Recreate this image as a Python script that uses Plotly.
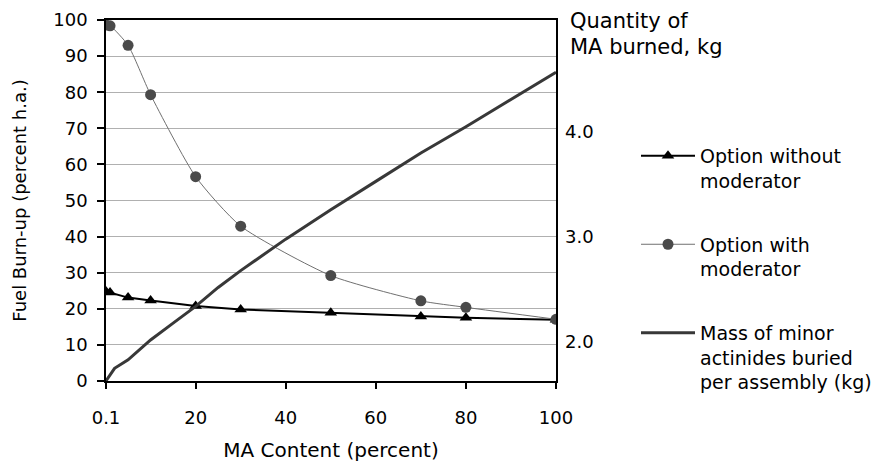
import plotly.graph_objects as go

# ---- data ----
ma_content = [0.1, 1, 5, 10, 20, 30, 50, 70, 80, 100]
burnup_without_moderator = [24.8, 24.5, 23.1, 22.3, 20.8, 19.8, 18.9, 17.9, 17.5, 17.0]
burnup_with_moderator = [98.6, 98.4, 93.0, 79.3, 56.6, 42.9, 29.2, 22.2, 20.4, 17.1]

mass_content = [0.1, 2, 5, 10, 15, 20, 25, 30, 40, 50, 60, 70, 80, 90, 100]
mass_buried_kg = [1.63, 1.75, 1.83, 2.02, 2.18, 2.34, 2.52, 2.68, 2.98, 3.26, 3.53, 3.80, 4.05, 4.31, 4.57]

x_tickvals = [0.1, 20, 40, 60, 80, 100]
x_ticktext = ["0.1", "20", "40", "60", "80", "100"]
y2_tickvals = [2, 3, 4]

FONT = "DejaVu Sans"
# the page body adds an 8px offset, so the figure is 8px smaller than the window
W, H = 871, 454

fig = go.Figure()

fig.add_trace(go.Scatter(
    x=ma_content, y=burnup_without_moderator,
    name="Option without<br>moderator", legendgroup="a",
    mode="lines+markers",
    line=dict(color="black", width=2),
    marker=dict(symbol="triangle-up", size=11, color="black"),
))
fig.add_trace(go.Scatter(
    x=ma_content, y=burnup_with_moderator,
    name="Option with<br>moderator", legendgroup="b",
    mode="lines+markers",
    line=dict(color="#707070", width=1, shape="spline", smoothing=0.6),
    marker=dict(symbol="circle", size=11, color="#4a4a4a"),
))
fig.add_trace(go.Scatter(
    x=mass_content, y=mass_buried_kg, yaxis="y2",
    name="Mass of minor<br>actinides buried<br>per assembly (kg)", legendgroup="c",
    mode="lines",
    line=dict(color="#383838", width=3),
))

fig.update_layout(
    width=W, height=H,
    margin=dict(l=98, r=323, t=12, b=81, autoexpand=False),
    paper_bgcolor="white", plot_bgcolor="white",
    font=dict(family=FONT, color="black"),
    showlegend=True,
    legend=dict(
        xref="container", yref="container",
        x=628 / W, y=1 - 129 / H, xanchor="left", yanchor="top",
        font=dict(size=19, family=FONT),
        itemwidth=54, valign="top", tracegroupgap=36,
        bgcolor="rgba(0,0,0,0)", maxheight=H,
    ),
    xaxis=dict(
        range=[0.1, 100], tickvals=x_tickvals, ticktext=x_ticktext,
        showgrid=False, zeroline=False, automargin=False,
        showline=True, linecolor="black", linewidth=1.5, mirror=True,
        ticks="outside", ticklen=6, tickcolor="black", tickwidth=1.5,
        tickfont=dict(size=18), ticklabelstandoff=14,
        title=dict(text="MA Content (percent)", font=dict(size=20), standoff=16),
    ),
    yaxis=dict(
        range=[0, 100], dtick=10, automargin=False,
        showgrid=True, gridcolor="#b0b0b0", gridwidth=1, zeroline=False,
        showline=True, linecolor="black", linewidth=1.5, mirror=True,
        ticks="outside", ticklen=7, tickcolor="black", tickwidth=1.5,
        tickfont=dict(size=18), ticklabelstandoff=6,
        title=dict(text="Fuel Burn-up (percent h.a.)", font=dict(size=18), standoff=22),
    ),
    yaxis2=dict(
        overlaying="y", side="right", anchor="x", automargin=False,
        range=[1.629, 5.067], tickvals=y2_tickvals, tickformat=".1f",
        showgrid=False, zeroline=False, showline=False, ticks="",
        tickfont=dict(size=18), ticklabelstandoff=8,
    ),
    annotations=[
        dict(text="Quantity of", xref="paper", yref="paper",
             x=(568 - 106) / 450, y=(381 - 21) / 361, xanchor="left", yanchor="middle",
             showarrow=False, font=dict(size=21, family=FONT)),
        dict(text="MA burned, kg", xref="paper", yref="paper",
             x=(568 - 106) / 450, y=(381 - 47) / 361, xanchor="left", yanchor="middle",
             showarrow=False, font=dict(size=21, family=FONT)),
    ],
)

fig.write_html("out.html")
